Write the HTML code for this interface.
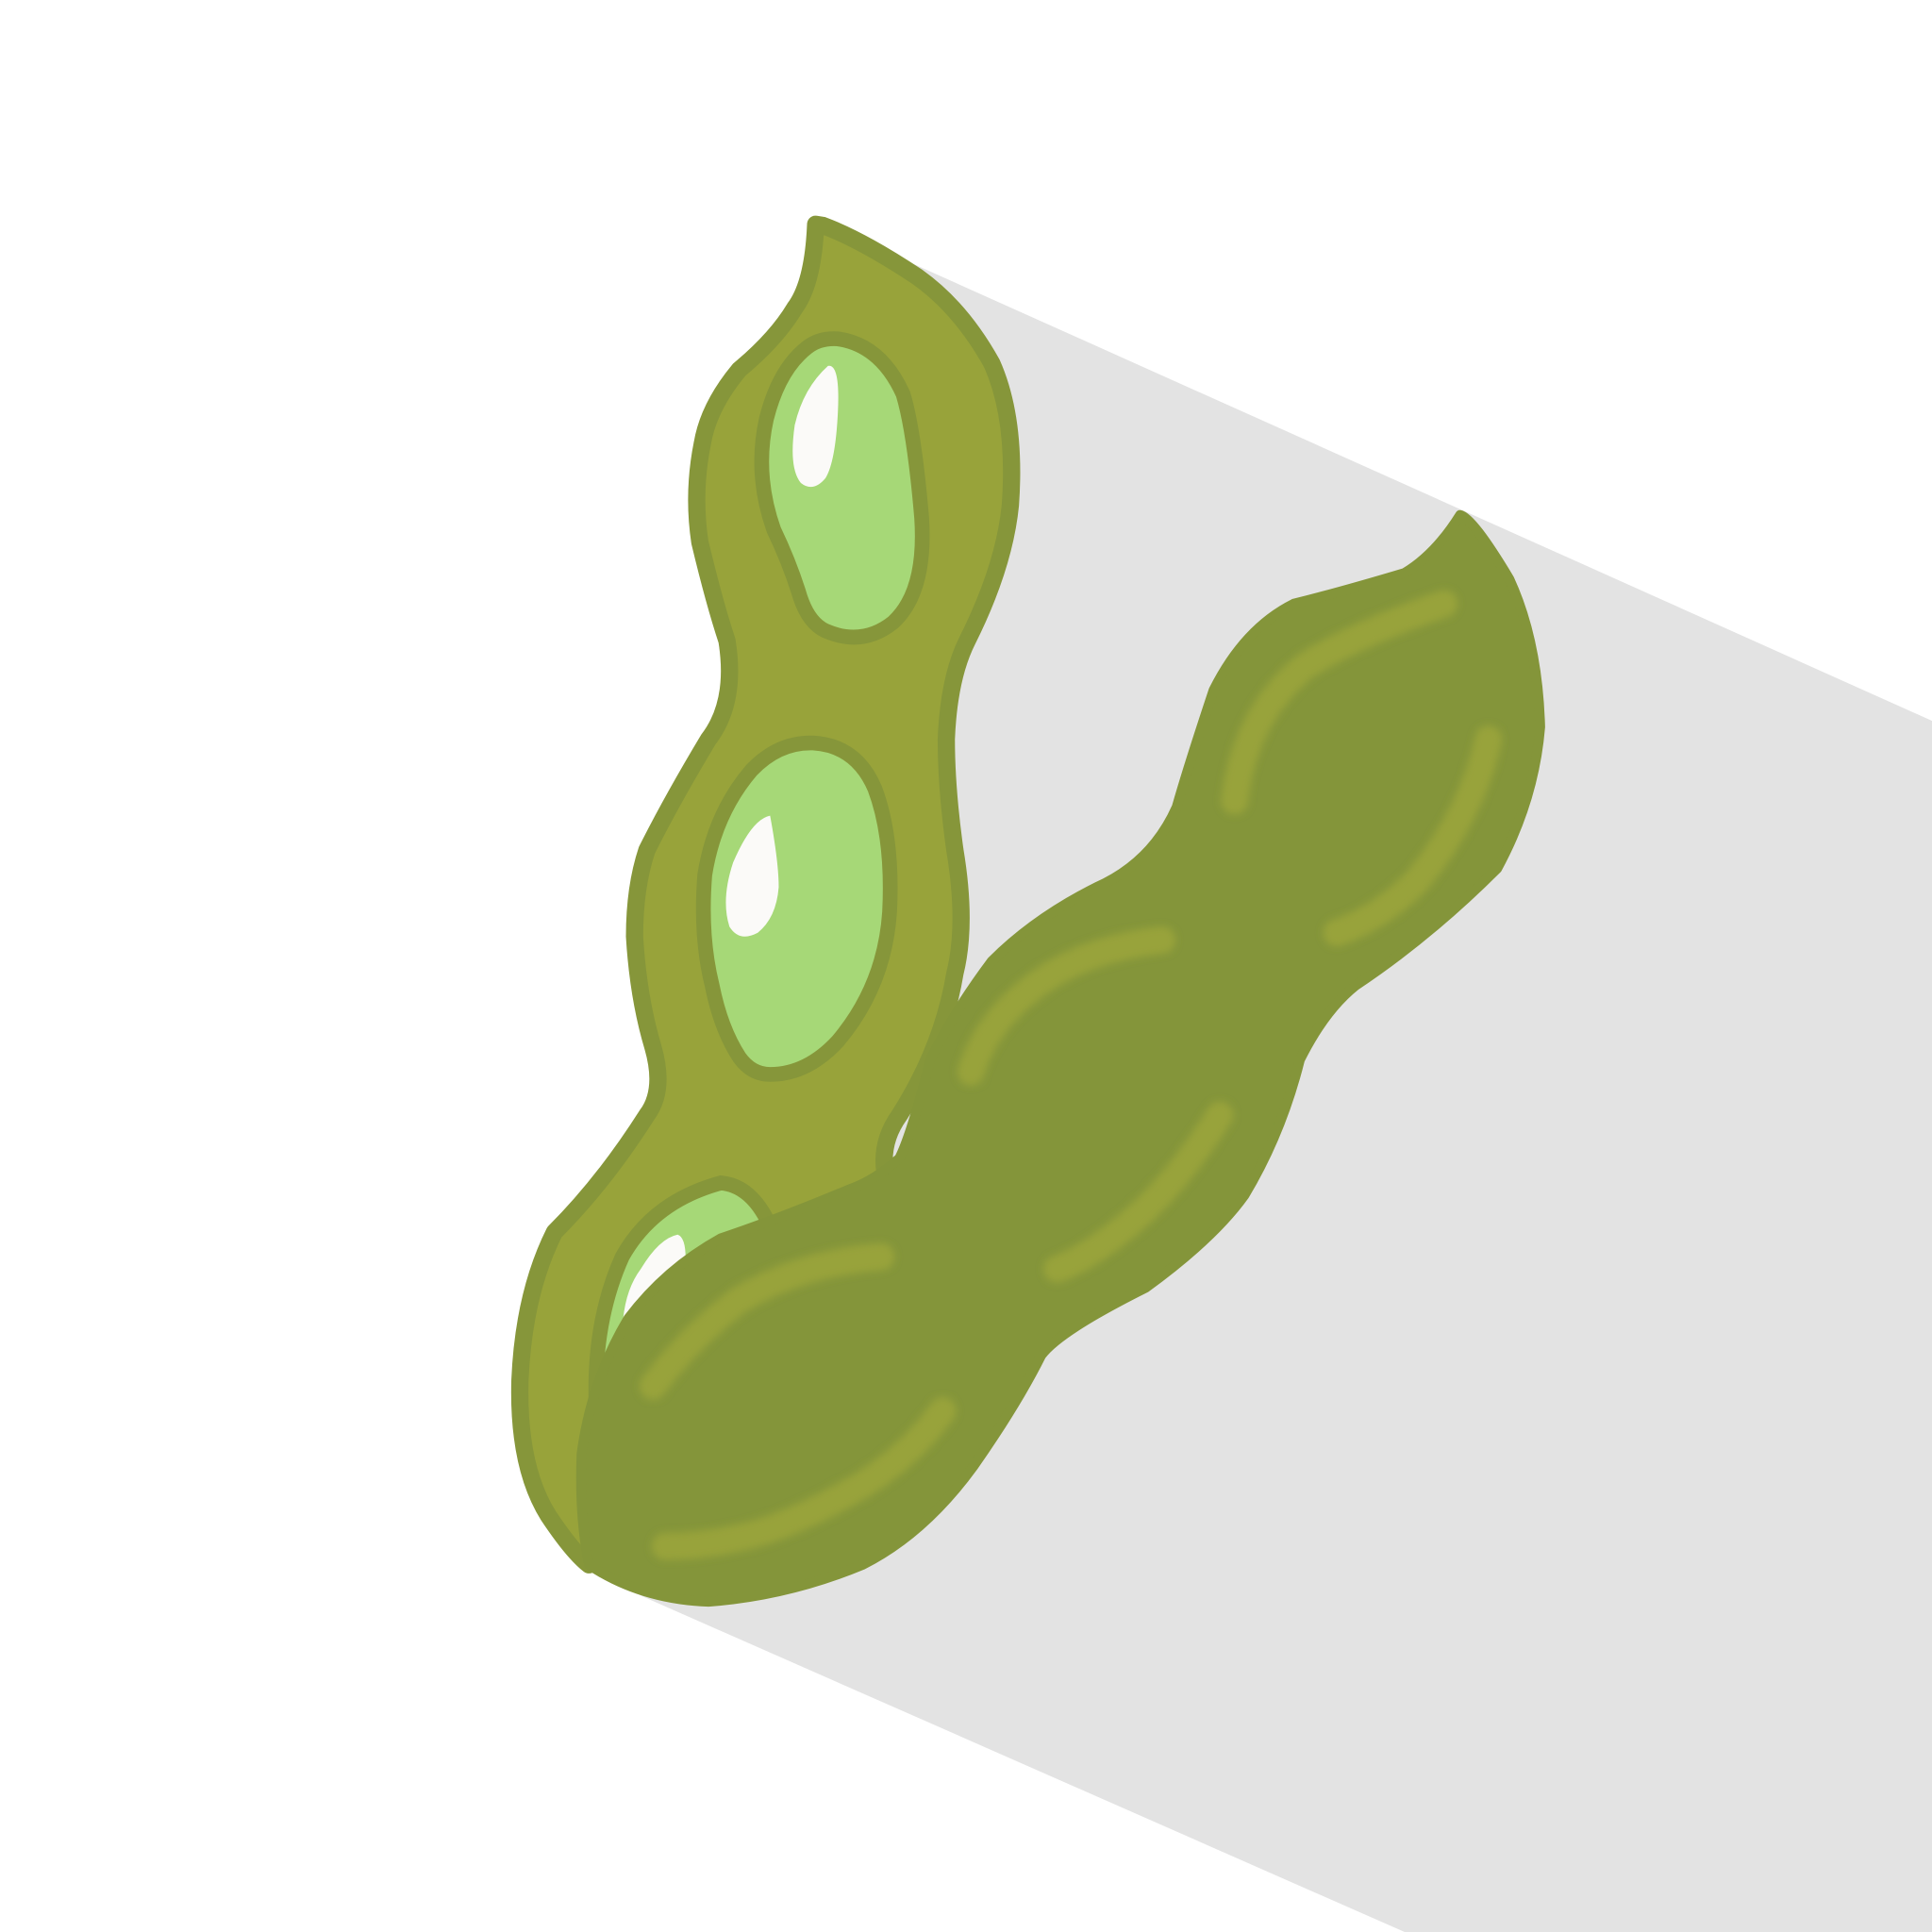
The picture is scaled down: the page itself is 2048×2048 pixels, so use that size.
<!DOCTYPE html>
<html><head><meta charset="utf-8"><style>
html,body{margin:0;padding:0;background:#fff;}
svg{display:block;width:2048px;height:2048px;}
</style></head><body>
<svg viewBox="0 0 1568 1568" xmlns="http://www.w3.org/2000/svg">
<defs><filter id="b" x="-20%" y="-20%" width="140%" height="140%"><feGaussianBlur stdDeviation="3"/></filter></defs>
<polygon fill="#e3e3e3" points="665,180 1568,585 1568,1568 1140,1568 520,1295 478,1270 700,700"/>
<path fill="#98a33a" stroke="#86963a" stroke-width="14" stroke-linejoin="round"
 d="M662,182 Q660,230 645,250 Q630,275 600,300 Q575,330 570,360 Q562,400 568,440 Q580,490 590,520 Q598,570 575,600 Q545,650 525,690 Q515,720 515,760 Q518,810 530,850 Q540,885 525,905 Q490,960 450,1000 Q425,1050 422,1120 Q420,1190 445,1230 Q465,1260 478,1270 L720,960 Q712,930 730,905 Q765,850 775,790 Q785,750 775,690 Q768,640 768,600 Q770,550 785,520 Q815,460 820,410 Q825,340 805,295 Q780,250 745,225 Q700,195 668,183 Z"/>
<path fill="#a6d877" stroke="#86963a" stroke-width="12" d="M680,275 Q715,280 733,320 Q742,350 748,420 Q752,480 725,505 Q700,525 670,512 Q655,505 648,480 Q640,455 628,430 Q612,385 622,340 Q632,300 655,282 Q665,274 680,275 Z"/>
<path fill="#fbfaf8" d="M672,297 Q682,295 680,335 Q678,375 670,388 Q660,400 650,392 Q640,380 645,345 Q652,315 672,297 Z"/>
<path fill="#a6d877" stroke="#86963a" stroke-width="12" d="M660,603 Q695,605 710,640 Q725,680 722,740 Q718,800 680,845 Q655,872 625,872 Q610,872 600,858 Q585,835 578,800 Q568,760 572,710 Q580,660 610,625 Q632,602 660,603 Z"/>
<path fill="#fbfaf8" d="M625,662 Q632,700 632,720 Q630,745 615,757 Q600,765 592,752 Q585,730 595,700 Q610,665 625,662 Z"/>
<path fill="#a6d877" stroke="#86963a" stroke-width="12" d="M585,960 Q610,962 625,995 L560,1040 L485,1160 Q478,1080 505,1020 Q530,975 585,960 Z"/>
<path fill="#fbfaf8" d="M550,1002 Q558,1005 556,1030 L505,1085 Q505,1050 520,1030 Q535,1005 550,1002 Z"/>
<path fill="#84953a" stroke="#84953a" stroke-width="8" stroke-linejoin="round"
 d="M478,1270 Q520,1298 575,1300 Q640,1295 700,1270 Q750,1245 790,1190 Q825,1140 845,1100 Q860,1080 930,1045 Q985,1005 1010,970 Q1040,920 1055,860 Q1075,820 1100,800 Q1160,760 1215,705 Q1245,650 1250,590 Q1248,520 1225,470 Q1195,420 1185,418 Q1165,450 1140,465 Q1090,480 1050,490 Q1010,510 985,560 Q965,620 955,655 Q935,700 890,720 Q840,745 805,780 Q775,820 755,860 Q740,920 730,940 Q710,958 690,965 Q630,990 585,1005 Q540,1030 510,1070 Q480,1120 472,1180 Q470,1230 478,1270 Z"/>
<g fill="none" stroke="#98a33a" stroke-width="22" stroke-linecap="round" filter="url(#b)">
<path d="M1172,490 Q1100,515 1060,540 Q1010,580 1002,650"/>
<path d="M1208,600 Q1195,660 1150,715 Q1120,745 1085,757"/>
<path d="M943,763 Q880,770 840,800 Q800,830 788,870"/>
<path d="M990,905 Q955,960 920,990 Q885,1020 858,1030"/>
<path d="M715,1020 Q650,1025 600,1055 Q560,1085 530,1125"/>
<path d="M765,1145 Q740,1180 700,1205 Q640,1240 600,1248 Q570,1255 540,1255"/>
</g>
</svg>
</body></html>
